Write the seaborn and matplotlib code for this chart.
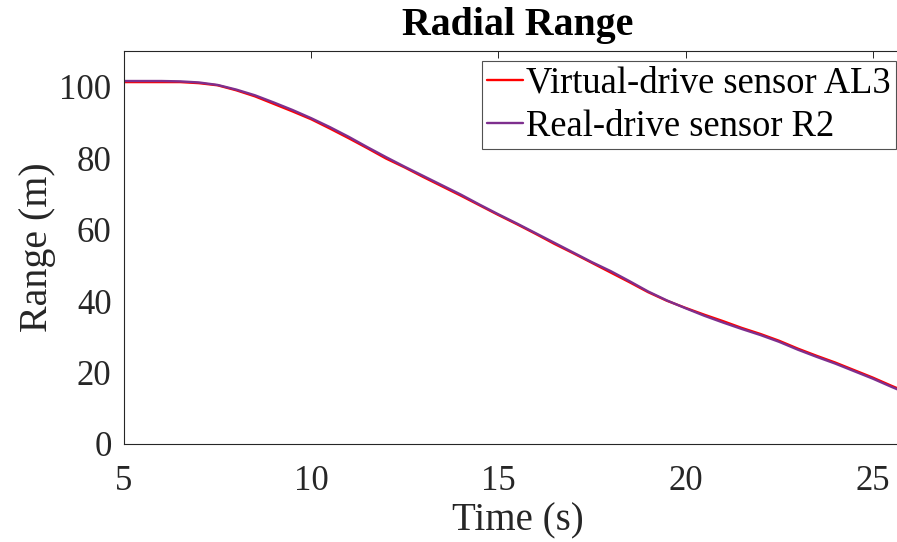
import matplotlib
matplotlib.use("Agg")
import matplotlib.pyplot as plt
import seaborn as sns
import pandas as pd

# ---- data ----
time_s = [5.0, 5.5, 6.0, 6.5, 7.0, 7.5, 8.0, 8.5, 9.0, 9.5, 10.0, 10.5, 11.0, 11.5,
          12.0, 12.5, 13.0, 13.5, 14.0, 14.5, 15.0, 15.5, 16.0, 16.5, 17.0, 17.5,
          18.0, 18.5, 19.0, 19.5, 20.0, 20.5, 21.0, 21.5, 22.0, 22.5, 23.0, 23.5,
          24.0, 24.5, 25.0, 25.5, 26.0]
real_r2 = [101.6, 101.6, 101.6, 101.5, 101.2, 100.5, 99.2, 97.6, 95.6, 93.5, 91.2,
           88.7, 86.0, 83.1, 80.3, 77.6, 75.0, 72.4, 69.8, 67.0, 64.3, 61.7, 59.0,
           56.3, 53.6, 50.9, 48.4, 45.6, 42.7, 40.2, 38.0, 35.9, 34.0, 32.2, 30.5,
           28.6, 26.4, 24.4, 22.5, 20.4, 18.3, 16.0, 13.8]
virtual_al3 = [101.3, 101.3, 101.3, 101.3, 101.0, 100.4, 99.0, 97.3, 95.2, 93.1, 90.9,
               88.3, 85.6, 82.8, 79.9, 77.4, 74.7, 72.1, 69.5, 66.8, 64.1, 61.5, 58.8,
               56.0, 53.4, 50.7, 48.0, 45.3, 42.5, 40.1, 38.1, 36.2, 34.4, 32.5, 30.8,
               28.9, 26.7, 24.7, 22.8, 20.7, 18.6, 16.3, 14.1]
labels = ["Virtual-drive sensor AL3", "Real-drive sensor R2"]
x_ticks = [5, 10, 15, 20, 25]
y_ticks = [0, 20, 40, 60, 80, 100]

df = pd.DataFrame({
    "Time": time_s + time_s,
    "Range": virtual_al3 + real_r2,
    "Sensor": [labels[0]] * len(time_s) + [labels[1]] * len(time_s),
})

sns.set_theme(style="white")
plt.rcParams["font.family"] = ["Liberation Serif", "DejaVu Serif"]

W, H = 897, 542
fig = plt.figure(figsize=(W / 100, H / 100), dpi=100)
ax_l, ax_b, ax_r, ax_t = 124, 444, 912, 51
ax = fig.add_axes([ax_l / W, (H - ax_b) / H, (ax_r - ax_l) / W, (ax_b - ax_t) / H])
aw, ah = ax_r - ax_l, ax_b - ax_t

sns.lineplot(data=df, x="Time", y="Range", hue="Sensor", hue_order=labels,
             palette={labels[0]: "#FF0000", labels[1]: "#7E2F8E"},
             linewidth=1.7, ax=ax, legend=False)

ax.set_xlim(5, 26.05)
ax.set_ylim(0, 110)
ax.set_xticks(x_ticks)
ax.set_yticks(y_ticks)

ax.set_xlabel("Time (s)", fontsize=28, color="#262626")
ax.xaxis.label.set_va("baseline")
ax.xaxis.set_label_coords((518.3 - ax_l) / aw, (ax_b - 530.7) / ah)

ax.set_ylabel("Range (m)", fontsize=28.8, color="#262626")
ax.yaxis.label.set_va("baseline")
ax.yaxis.set_label_coords((46.5 - ax_l) / aw, 0.5)

ax.set_title("Radial Range", fontsize=28.7, fontweight="bold", color="black",
             pad=0, y=1 + (ax_t - 35) / ah, va="baseline")

ax.tick_params(axis="both", direction="in", length=5, width=0.7, colors="#262626",
               labelsize=25, top=True, right=True)
ax.tick_params(axis="x", pad=15)
ax.tick_params(axis="y", pad=9)
for s in ax.spines.values():
    s.set_visible(True)
    s.set_color("#262626")
    s.set_linewidth(0.8)

lines = ax.get_lines()
leg = fig.legend(lines[:2], labels, loc="upper left",
                 bbox_to_anchor=(481.7 / W, 1 - 61 / H), bbox_transform=fig.transFigure,
                 fontsize=26.3, frameon=True, fancybox=False, handlelength=0.98,
                 handletextpad=0.09, borderpad=0.15, labelspacing=0.23, borderaxespad=0)
leg.get_frame().set_edgecolor("#262626")
leg.get_frame().set_linewidth(0.8)
for t in leg.get_texts():
    t.set_color("black")

fig.savefig("out.png", dpi=100)
